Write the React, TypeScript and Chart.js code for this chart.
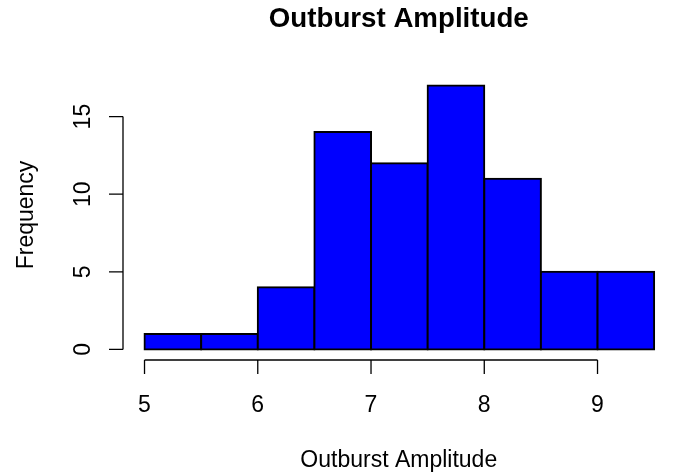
import React, { useEffect, useRef } from "react";
import { Chart, registerables } from "chart.js";

Chart.register(...registerables);

// ---- data ----
const binStarts = [5, 5.5, 6, 6.5, 7, 7.5, 8, 8.5, 9];
const binWidth = 0.5;
const frequencies = [1, 1, 4, 14, 12, 17, 11, 5, 5];
const xTicks = [5, 6, 7, 8, 9];
const yTicks = [0, 5, 10, 15];
const titleText = "Outburst Amplitude";
const xLabel = "Outburst Amplitude";
const yLabel = "Frequency";

const FONT = '"Liberation Sans", Arial, Helvetica, sans-serif';

const rAxesPlugin = {
  id: "rAxes",
  afterDraw(chart: any) {
    const ctx = chart.ctx as CanvasRenderingContext2D;
    const xs = chart.scales.x;
    const ys = chart.scales.y;
    const area = chart.chartArea;
    const tick = 14;
    ctx.save();
    ctx.strokeStyle = "#000";
    ctx.fillStyle = "#000";
    ctx.lineWidth = 1.3;

    // x axis
    const xy = area.bottom;
    ctx.beginPath();
    ctx.moveTo(xs.getPixelForValue(xTicks[0]), xy);
    ctx.lineTo(xs.getPixelForValue(xTicks[xTicks.length - 1]), xy);
    for (const t of xTicks) {
      const px = xs.getPixelForValue(t);
      ctx.moveTo(px, xy);
      ctx.lineTo(px, xy + tick);
    }
    ctx.stroke();
    ctx.font = `23px ${FONT}`;
    ctx.textAlign = "center";
    ctx.textBaseline = "alphabetic";
    for (const t of xTicks) {
      ctx.fillText(String(t), xs.getPixelForValue(t), 412);
    }

    // y axis
    const yx = area.left;
    ctx.beginPath();
    ctx.moveTo(yx, ys.getPixelForValue(yTicks[0]));
    ctx.lineTo(yx, ys.getPixelForValue(yTicks[yTicks.length - 1]));
    for (const t of yTicks) {
      const py = ys.getPixelForValue(t);
      ctx.moveTo(yx, py);
      ctx.lineTo(yx - tick, py);
    }
    ctx.stroke();
    for (const t of yTicks) {
      const py = ys.getPixelForValue(t);
      ctx.save();
      ctx.translate(90, py);
      ctx.rotate(-Math.PI / 2);
      ctx.fillText(String(t), 0, 0);
      ctx.restore();
    }

    const cx = xs.getPixelForValue((xs.min + 9.68) / 2);

    // titles
    ctx.font = `bold 27.7px ${FONT}`;
    ctx.fillText(titleText, cx, 27);
    ctx.font = `23px ${FONT}`;
    ctx.fillText(xLabel, cx, 467);
    ctx.save();
    ctx.translate(33, 215);
    ctx.rotate(-Math.PI / 2);
    ctx.fillText(yLabel, 0, 0);
    ctx.restore();

    ctx.restore();
  },
};

export default function App() {
  const ref = useRef<HTMLCanvasElement>(null);
  useEffect(() => {
    if (!ref.current) return;
    const data = binStarts.map((s, i) => ({ x: s + binWidth / 2, y: frequencies[i] }));
    const chart = new Chart(ref.current, {
      type: "bar",
      data: {
        datasets: [
          {
            data: data as any,
            backgroundColor: "#0000FF",
            borderColor: "#000000",
            borderWidth: 2,
            borderSkipped: false,
            inflateAmount: 1,
            barPercentage: 1,
            categoryPercentage: 1,
          } as any,
        ],
      },
      options: {
        animation: false,
        responsive: false,
        devicePixelRatio: 1,
        layout: { padding: { left: 123, right: 3, top: 75, bottom: 112 } },
        plugins: {
          legend: { display: false },
          tooltip: { enabled: false },
          title: { display: false },
        },
        scales: {
          x: { type: "linear", min: 4.81, max: 9.64, offset: false, display: false },
          y: { type: "linear", min: -0.68, max: 17.68, display: false },
        },
      },
      plugins: [rAxesPlugin],
    });
    return () => chart.destroy();
  }, []);
  return (
    <div style={{ position: "fixed", left: 0, top: 0, width: 673, height: 472, background: "#fff" }}>
      <canvas ref={ref} width={673} height={472} />
    </div>
  );
}
